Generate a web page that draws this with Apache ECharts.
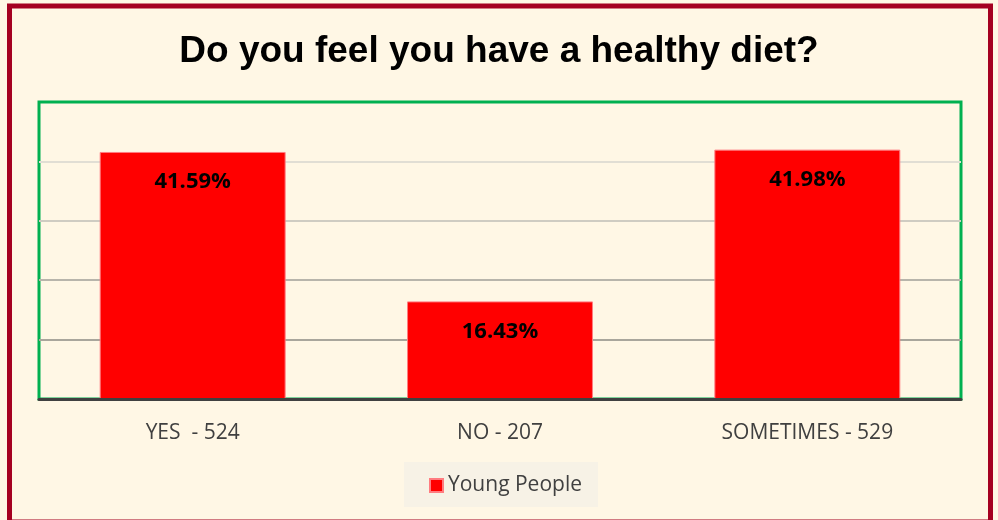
<!DOCTYPE html>
<html>
<head>
<meta charset="utf-8">
<script src="https://cdn.jsdelivr.net/npm/echarts@6/dist/echarts.min.js"></script>
<style>
html,body{margin:0;padding:0;background:#FFF7E5;}
#c{width:998px;height:520px;}
</style>
</head>
<body>
<div id="c"></div>
<script>
var titleText = 'Do you feel you have a healthy diet?';
var categories = ['YES  - 524', 'NO - 207', 'SOMETIMES - 529'];
var seriesName = 'Young People';
var percentValues = [41.59, 16.43, 41.98];
var axisMax = 50;
var axisInterval = 10;

var chart = echarts.init(document.getElementById('c'), null, {renderer: 'canvas'});
var labelFont = '"Open Sans", Lato, sans-serif';
chart.setOption({
  backgroundColor: '#FFF7E5',
  animation: false,
  title: {
    text: titleText,
    left: 'center',
    top: 28,
    textStyle: {fontFamily: '"Liberation Sans", Arial, sans-serif', fontWeight: 'bold', fontSize: 37, color: '#000000'}
  },
  legend: {
    data: [seriesName],
    left: 404,
    top: 462,
    padding: [13, 16, 11, 25],
    backgroundColor: '#F7F2E6',
    itemWidth: 13,
    itemHeight: 13,
    itemGap: 5,
    icon: 'rect',
    textStyle: {fontFamily: labelFont, fontSize: 21, color: '#404040'}
  },
  grid: {
    left: 39, right: 37, top: 102, bottom: 121,
    show: true,
    borderColor: '#00B050',
    borderWidth: 3,
    backgroundColor: 'transparent'
  },
  xAxis: {
    type: 'category',
    data: categories,
    axisLine: {show: true, lineStyle: {color: '#404040', width: 3}},
    axisTick: {show: false},
    axisLabel: {fontFamily: labelFont, fontSize: 21, color: '#404040', margin: 24},
    z: 5
  },
  yAxis: {
    type: 'value',
    min: 0,
    max: axisMax,
    interval: axisInterval,
    axisLine: {show: false},
    axisTick: {show: false},
    axisLabel: {show: false},
    splitLine: {
      show: true,
      showMinLine: false,
      showMaxLine: false,
      lineStyle: {color: ['#A9A69C', '#B8B5AB', '#CFCCC2', '#E1DED4'], width: 2}
    }
  },
  series: [{
    name: seriesName,
    type: 'bar',
    data: percentValues,
    barWidth: '60.5%',
    itemStyle: {color: '#FF0000', borderColor: '#FF7C80', borderWidth: 1},
    label: {
      show: true,
      position: 'insideTop',
      distance: 19,
      formatter: function (p) { return p.value.toFixed(2) + '%'; },
      fontFamily: labelFont,
      fontWeight: 'bold',
      fontSize: 22,
      color: '#000000'
    }
  }],
  graphic: [{
    type: 'rect',
    silent: true,
    z: 100,
    shape: {x: 9.5, y: 6, width: 981, height: 516},
    style: {fill: null, stroke: '#A50021', lineWidth: 5}
  }]
});
</script>
</body>
</html>
